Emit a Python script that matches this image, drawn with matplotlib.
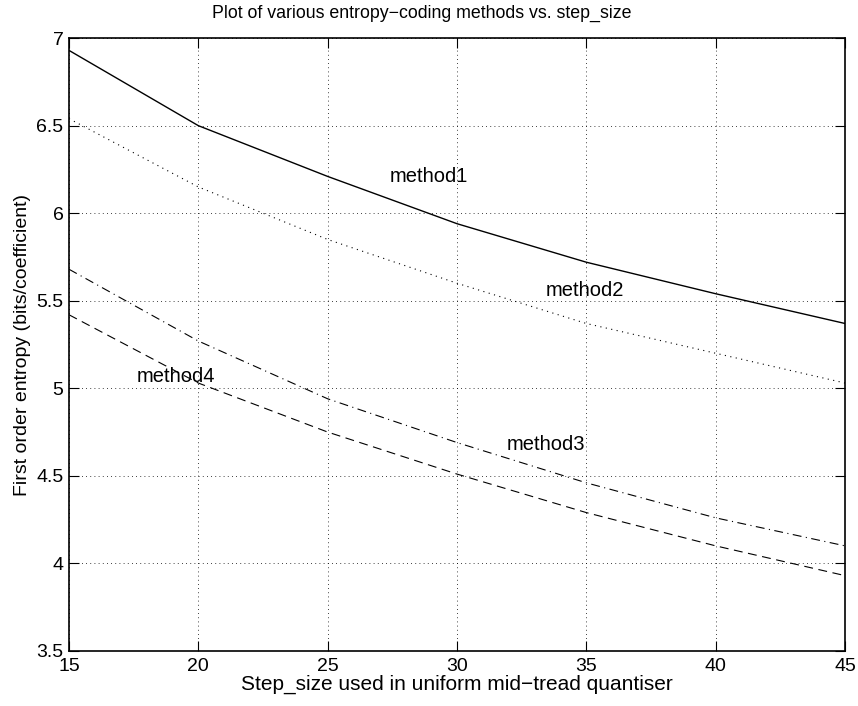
import matplotlib
matplotlib.use("Agg")
import matplotlib.pyplot as plt

# step sizes and entropies
step_size = [15, 20, 25, 30, 35, 40, 45]
method1 = [6.93, 6.50, 6.21, 5.94, 5.72, 5.54, 5.37]
method2 = [6.54, 6.15, 5.85, 5.60, 5.37, 5.20, 5.03]
method3 = [5.68, 5.27, 4.94, 4.69, 4.46, 4.26, 4.10]
method4 = [5.42, 5.03, 4.75, 4.51, 4.29, 4.10, 3.93]

plt.rcParams['font.family'] = ['Liberation Sans', 'DejaVu Sans']

fig = plt.figure(figsize=(8.58, 7.06), dpi=100)
ax = fig.add_axes([0.0804, 0.078, 0.9046, 0.868])

ax.plot(step_size, method1, color='black', linestyle='-', linewidth=1)
ax.plot(step_size, method2, color='black', linestyle=(0, (1, 4)), linewidth=0.8)
ax.plot(step_size, method3, color='black', linestyle=(0, (8, 4, 1, 4)), linewidth=0.8)
ax.plot(step_size, method4, color='black', linestyle=(0, (8, 5)), linewidth=0.8)

# labels placed as text next to the curves
ax.text(27.4, 6.21, 'method1', fontsize=14.5, va='center', ha='left')
ax.text(33.44, 5.56, 'method2', fontsize=14.5, va='center', ha='left')
ax.text(31.93, 4.68, 'method3', fontsize=14.5, va='center', ha='left')
ax.text(17.63, 5.07, 'method4', fontsize=14.5, va='center', ha='left')

ax.set_xlim(15, 45)
ax.set_ylim(3.5, 7)
ax.set_xticks([15, 20, 25, 30, 35, 40, 45])
ax.set_yticks([3.5, 4, 4.5, 5, 5.5, 6, 6.5, 7])
ax.set_yticklabels(['3.5', '4', '4.5', '5', '5.5', '6', '6.5', '7'])

ax.grid(True, color='black', linestyle=(0, (1, 4)), linewidth=0.6)
ax.tick_params(direction='in', top=True, right=True, length=7, width=0.8,
               labelsize=14)
ax.tick_params(axis='x', pad=5)
ax.tick_params(axis='y', pad=4)
for s in ax.spines.values():
    s.set_linewidth(1.2)

ax.set_title('Plot of various entropy\u2212coding methods vs. step_size',
             fontsize=12.75, pad=14.5, x=0.455)
ax.set_xlabel('Step_size used in uniform mid\u2212tread quantiser', fontsize=15, labelpad=0)
ax.set_ylabel('First order entropy (bits/coefficient)', fontsize=14, labelpad=4)

fig.savefig('out.png', dpi=100)
